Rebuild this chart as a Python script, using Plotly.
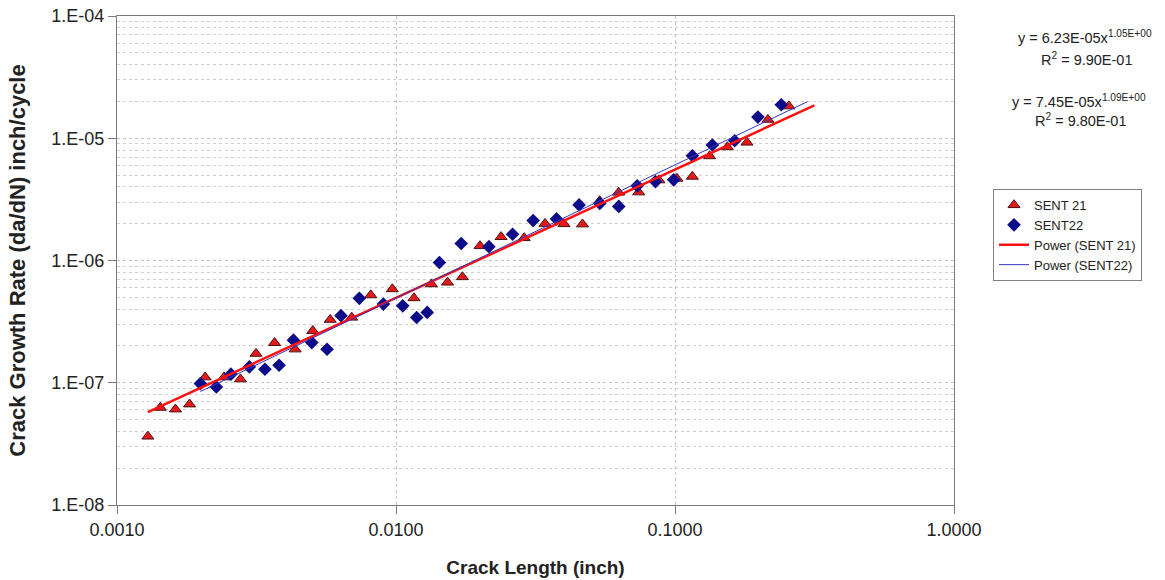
import numpy as np
import plotly.graph_objects as go

# ---- data ----
sent21_x = [0.00129, 0.00143, 0.00162, 0.00182, 0.00207, 0.00242, 0.00277, 0.00315,
            0.00367, 0.00435, 0.00503, 0.00581, 0.00694, 0.00812, 0.00970, 0.0116,
            0.0134, 0.0153, 0.0173, 0.0200, 0.0238, 0.0288, 0.0342, 0.0400, 0.0466,
            0.0537, 0.0628, 0.0741, 0.0876, 0.1016, 0.1154, 0.1331, 0.1540, 0.1811,
            0.2153, 0.2559]
sent21_y = [3.64e-8, 6.26e-8, 6.07e-8, 6.67e-8, 1.11e-7, 1.11e-7, 1.07e-7, 1.73e-7,
            2.12e-7, 1.88e-7, 2.66e-7, 3.28e-7, 3.42e-7, 5.21e-7, 5.84e-7, 4.93e-7,
            6.41e-7, 6.62e-7, 7.33e-7, 1.315e-6, 1.56e-6, 1.53e-6, 2.00e-6, 1.99e-6, 1.98e-6,
            3.07e-6, 3.60e-6, 3.62e-6, 4.54e-6, 4.68e-6, 4.86e-6, 7.15e-6, 8.47e-6, 9.24e-6,
            1.42e-5, 1.83e-5]

sent22_x = [0.00199, 0.00227, 0.00256, 0.00298, 0.00339, 0.00381, 0.00429, 0.00499,
            0.00566, 0.00635, 0.00739, 0.00901, 0.01057, 0.01186, 0.01294, 0.01431,
            0.01713, 0.02153, 0.02617, 0.03101, 0.03762, 0.04532, 0.05375, 0.06286,
            0.0732, 0.0851, 0.0989, 0.1154, 0.1361, 0.1636, 0.1982, 0.2404]
sent22_y = [9.84e-8, 9.24e-8, 1.175e-7, 1.347e-7, 1.29e-7, 1.39e-7, 2.23e-7, 2.13e-7,
            1.88e-7, 3.54e-7, 4.90e-7, 4.40e-7, 4.26e-7, 3.42e-7, 3.76e-7, 9.63e-7,
            1.378e-6, 1.297e-6, 1.64e-6, 2.12e-6, 2.19e-6, 2.85e-6, 2.93e-6, 2.77e-6,
            4.08e-6, 4.42e-6, 4.57e-6, 7.19e-6, 8.80e-6, 9.54e-6, 1.49e-5, 1.88e-5]

# power trendline coefficients (as printed on the chart)
fit21_a, fit21_b = 6.23e-05, 1.05
fit22_a, fit22_b = 7.45e-05, 1.09
fit21_xrange = [0.00129, 0.316]
fit22_xrange = [0.00199, 0.2985]

x_tickvals = [0.001, 0.01, 0.1, 1.0]
x_ticktext = ["0.0010", "0.0100", "0.1000", "1.0000"]
y_tickvals = [1e-8, 1e-7, 1e-6, 1e-5, 1e-4]
y_ticktext = ["1.E-08", "1.E-07", "1.E-06", "1.E-05", "1.E-04"]
y_minor = [m * 10.0 ** e for e in range(-8, -4) for m in range(2, 10)]

eq_texts = ["y = 6.23E-05x<sup>1.05E+00</sup>", "R<sup>2</sup> = 9.90E-01",
            "y = 7.45E-05x<sup>1.09E+00</sup>", "R<sup>2</sup> = 9.80E-01"]

FONT = "Liberation Sans, Arial, sans-serif"

fx21 = np.geomspace(*fit21_xrange, 20)
fx22 = np.geomspace(*fit22_xrange, 20)

fig = go.Figure()
fig.add_trace(go.Scatter(x=sent21_x, y=sent21_y, mode="markers", name="SENT 21",
                         marker=dict(symbol="triangle-up", size=10.5, color="#e41a1a",
                                     line=dict(color="#4a1010", width=1))))
fig.add_trace(go.Scatter(x=sent22_x, y=sent22_y, mode="markers", name="SENT22",
                         marker=dict(symbol="diamond", size=10.5, color="#0c0c8a",
                                     line=dict(color="#0c0c8a", width=0))))
fig.add_trace(go.Scatter(x=fx21, y=fit21_a * fx21 ** fit21_b, mode="lines",
                         name="Power (SENT 21)", line=dict(color="#ff1010", width=2.5)))
fig.add_trace(go.Scatter(x=fx22, y=fit22_a * fx22 ** fit22_b, mode="lines",
                         name="Power (SENT22)", line=dict(color="#3535c0", width=1)))

L, R, T, B = 117, 211, 16, 75
W, H = 1165, 580
pw, ph = W - L - R, H - T - B

def px(x):
    return (x - L) / pw

def py(y):
    return (H - B - y) / ph

ann_pos = [(1085, 37), (1087, 59), (1079, 101), (1081, 120)]
for txt, (ax, ay) in zip(eq_texts, ann_pos):
    fig.add_annotation(text=txt, x=px(ax), y=py(ay), xref="paper", yref="paper",
                       showarrow=False, xanchor="center", yanchor="middle",
                       font=dict(family=FONT, size=14.5, color="#222"))

axis_common = dict(showline=True, linecolor="#7a7a7a", linewidth=1, mirror=True,
                   ticks="outside", ticklen=8, tickcolor="#7a7a7a", zeroline=False,
                   tickfont=dict(family=FONT, size=18, color="#222"))

fig.update_xaxes(type="log", range=[-3, 0], tickvals=x_tickvals, ticktext=x_ticktext,
                 showgrid=True, gridcolor="#c4c4c4", griddash="dot", gridwidth=1,
                 title=dict(text="<b>Crack Length (inch)</b>", standoff=22,
                            font=dict(family=FONT, size=19, color="#222")),
                 **axis_common)
fig.update_yaxes(type="log", range=[-8, -4], tickvals=y_tickvals, ticktext=y_ticktext,
                 showgrid=True, gridcolor="#c4c4c4", griddash="dot", gridwidth=1,
                 minor=dict(tickvals=y_minor, showgrid=True, gridcolor="#cfcfcf",
                            griddash="dot", gridwidth=1, ticks=""),
                 title=dict(text="<b>Crack Growth Rate (da/dN) inch/cycle</b>", standoff=19,
                            font=dict(family=FONT, size=22, color="#222")),
                 **axis_common)

fig.update_layout(
    width=W, height=H, margin=dict(l=L, r=R, t=T, b=B, autoexpand=False),
    paper_bgcolor="white", plot_bgcolor="white",
    font=dict(family=FONT, color="#222"),
    legend=dict(x=px(993), y=py(189), xanchor="left", yanchor="top",
                bordercolor="#808080", borderwidth=1, bgcolor="white",
                font=dict(family=FONT, size=13, color="#222"),
                tracegroupgap=0, itemwidth=30),
    showlegend=True,
)

fig.write_html("out.html")
